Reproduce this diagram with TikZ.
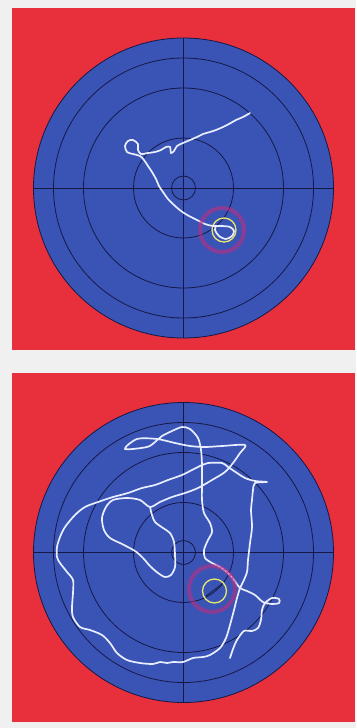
\documentclass[tikz,border=0pt]{standalone}
\definecolor{bgc}{RGB}{240,240,240}
\definecolor{redc}{RGB}{232,48,60}
\definecolor{bluec}{RGB}{58,84,182}
\definecolor{ringc}{RGB}{22,24,70}
\definecolor{pathc}{RGB}{232,238,255}
\definecolor{yel}{RGB}{232,228,110}
\definecolor{mag}{RGB}{195,45,125}
\tikzset{
  ringline/.style={draw=ringc, line width=0.8pt},
  trail/.style={draw=pathc, line width=1.7pt, line cap=round, line join=round},
  goalring/.style={draw=yel, line width=1.3pt},
  haloring/.style={draw=mag, line width=4.5pt, opacity=0.4},
  halodash/.style={draw=mag, line width=2pt, opacity=0.6, dash pattern=on 2.5pt off 1.5pt},
  arena/.pic={
    \fill[bluec] (0,0) circle (150);
    \draw[ringline] (0,0) circle (150) (0,0) circle (130) (0,0) circle (100) (0,0) circle (50) (0,0) circle (12);
    \draw[ringline, line width=0.6pt] (-150,0) -- (150,0) (0,-150) -- (0,150);
  }
}
\begin{document}
\begin{tikzpicture}[x=1pt,y=-1pt]
\useasboundingbox (0,0) rectangle (356,728);
\fill[bgc] (0,0) rectangle (356,728);
% panels
\fill[redc] (12,8) rectangle (355,350);
\fill[redc] (12,373) rectangle (355,722);
\pic at (183.5,188) {arena};
\pic at (183.5,552.5) {arena};
% top trail
\draw[goalring] (224,230) circle (12);
\draw[trail] plot[smooth, tension=0.5] coordinates {
 (250,113) (243,117) (236,120) (229,124) (223,127) (216,130) (210,132) (203,134)
 (197,137) (190,140) (183,143) (177,146) (174,151) (171,153) (170,147) (166,147)
 (161,150) (155,152) (148,153) (141,154) (138,150) (138,144) (133,140) (128,141)
 (125,146) (127,152) (133,154) (140,156) (144,160) (148,166) (152,172) (156,179)
 (159,186) (163,192) (168,199) (174,205) (181,211) (189,216) (197,220) (205,224)
 (213,226) (222,226) (230,227) (234,231) (232,236) (226,239) (219,236) (215,230) (216,226)};
\draw[haloring] (222,230) circle (22);
\draw[halodash] (222,230) circle (22);
% bottom trail
\draw[goalring] (214.5,591) circle (12);
\draw[ringline] (206,596) -- (222,584);
\draw[trail] plot[smooth, tension=0.5] coordinates {
 (230,658) (233,649) (237,640) (244,631) (252,631) (258,628) (261,620) (262,610)
 (265,603) (272,598) (279,599) (279,603) (272,604) (263,602) (255,595) (247,591)
 (240,588) (234,580) (228,573) (220,567) (212,563) (205,558) (204,550) (208,540)
 (212,532) (210,523) (204,513) (202,500) (202,485) (202,465) (201,450) (198,438)
 (190,429) (182,427) (172,431) (162,436) (155,442) (147,447) (125,449) (137,439)
 (157,439) (175,443) (190,446) (205,447) (222,446) (245,445) (240,453) (233,463)
 (225,472) (212,480) (198,488) (185,493) (172,497) (160,502) (150,507) (140,500)
 (127,498) (113,500) (106,507) (102,518) (104,530) (110,538) (122,544) (135,551)
 (143,558) (150,566) (158,573) (165,577) (171,575) (175,567) (175,555) (174,542)
 (170,533) (163,528) (155,522) (152,515) (150,507)};
\draw[trail] plot[smooth, tension=0.5] coordinates {
 (240,588) (243,582) (247,572) (248,560) (250,543) (252,527) (251,510) (252,500)
 (253,490) (255,483) (267,482) (255,481) (245,478) (237,473) (228,467) (222,463)
 (208,463) (202,465) (192,470) (182,475) (168,480) (155,485) (142,488) (128,493)
 (113,497) (98,502) (85,507) (75,515) (65,527) (60,537) (57,547) (57,557)
 (60,563) (67,572) (73,580) (73,593) (72,607) (73,617) (80,627) (90,630)
 (102,635) (110,643) (117,653) (127,660) (140,663) (153,664) (160,662) (167,663)
 (173,662) (183,662) (193,658) (203,657) (210,655) (220,648) (226,638) (230,625)
 (234,610) (237,598) (240,588)};
\draw[haloring] (212,589) circle (23);
\draw[halodash] (212,589) circle (23);
\end{tikzpicture}
\end{document}
